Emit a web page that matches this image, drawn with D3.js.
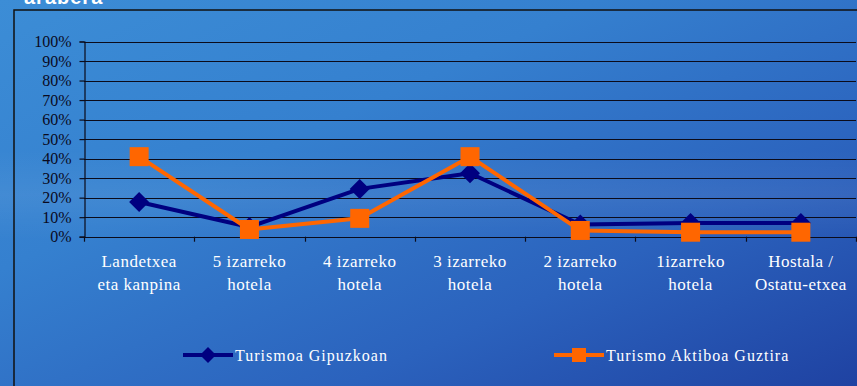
<!DOCTYPE html>
<html>
<head>
<meta charset="utf-8">
<script src="https://cdn.jsdelivr.net/npm/d3@7"></script>
<style>
  html, body { margin: 0; padding: 0; background: #2f74c4; }
  svg { display: block; }
</style>
</head>
<body>
<svg id="chart" width="857" height="386"></svg>
<script>
// Accommodation types (two-line labels)
const categories = [
  ["Landetxea", "eta kanpina"],
  ["5 izarreko", "hotela"],
  ["4 izarreko", "hotela"],
  ["3 izarreko", "hotela"],
  ["2 izarreko", "hotela"],
  ["1izarreko", "hotela"],
  ["Hostala /", "Ostatu-etxea"]
];
const seriesNames = ["Turismoa Gipuzkoan", "Turismo Aktiboa Guztira"];
const gipuzkoa = [0.178, 0.05, 0.245, 0.325, 0.062, 0.07, 0.07];
const guztira  = [0.41, 0.037, 0.094, 0.41, 0.032, 0.023, 0.023];
const yTicks = [0, 0.1, 0.2, 0.3, 0.4, 0.5, 0.6, 0.7, 0.8, 0.9, 1.0];

const svg = d3.select("#chart");
const W = 857, H = 386;

// Background gradient
const defs = svg.append("defs");
const bg = defs.append("linearGradient").attr("id", "bg")
  .attr("x1", "0").attr("y1", "0").attr("x2", "1").attr("y2", "1");
bg.append("stop").attr("offset", "0%").attr("stop-color", "#3c8dd6");
bg.append("stop").attr("offset", "35%").attr("stop-color", "#3580cf");
bg.append("stop").attr("offset", "70%").attr("stop-color", "#2b62bd");
bg.append("stop").attr("offset", "100%").attr("stop-color", "#1f42a2");
svg.append("rect").attr("width", W).attr("height", H).attr("fill", "url(#bg)");

// Soft horizontal haze band behind the lower plot area
const haze = defs.append("linearGradient").attr("id", "haze")
  .attr("x1", "0").attr("y1", "0").attr("x2", "0").attr("y2", "1");
haze.append("stop").attr("offset", "0%").attr("stop-color", "#ffffff").attr("stop-opacity", 0);
haze.append("stop").attr("offset", "50%").attr("stop-color", "#ffffff").attr("stop-opacity", 0.06);
haze.append("stop").attr("offset", "100%").attr("stop-color", "#ffffff").attr("stop-opacity", 0);
svg.append("rect").attr("x", 0).attr("y", 150).attr("width", W).attr("height", 90).attr("fill", "url(#haze)");

// Title (mostly outside the top edge)
svg.append("text").attr("x", 24).attr("y", 4)
  .attr("fill", "#ffffff").attr("font-family", "Liberation Sans, Arial, sans-serif")
  .attr("font-weight", "bold").attr("font-size", 20).attr("letter-spacing", 1)
  .text("arabera");

// Chart frame
svg.append("rect").attr("x", 14).attr("y", 10).attr("width", 900).attr("height", 500)
  .attr("fill", "none").attr("stroke", "#111").attr("stroke-width", 1.5);

// Scales
const x = d3.scaleBand().domain(d3.range(categories.length)).range([84, 856]).padding(0);
const y = d3.scaleLinear().domain([0, 1]).range([236.7, 41.5]);
const cx = i => x(i) + x.bandwidth() / 2;

// Gridlines
svg.append("g").selectAll("line").data(yTicks).join("line")
  .attr("x1", 84).attr("x2", 856)
  .attr("y1", d => Math.round(y(d)) + 0.5).attr("y2", d => Math.round(y(d)) + 0.5)
  .attr("stroke", "#0b0b1a").attr("stroke-width", 1.2);

// Y axis
const yAxis = svg.append("g").attr("transform", "translate(84.5,0)")
  .call(d3.axisLeft(y).tickValues(yTicks).tickFormat(d3.format(".0%")).tickSize(5).tickPadding(8));
yAxis.select(".domain").attr("stroke", "#0b0b1a").attr("stroke-width", 1.2);
yAxis.selectAll(".tick line").attr("stroke", "#0b0b1a").attr("stroke-width", 1.2);
yAxis.selectAll(".tick text")
  .attr("fill", "#0a0a1e").attr("font-family", "Liberation Serif, Times New Roman, serif")
  .attr("font-size", 16);

// X axis baseline tick marks at category boundaries
const edges = d3.range(categories.length).map(i => x(i)).concat([x(categories.length - 1) + x.bandwidth()]);
svg.append("g").selectAll("line").data(edges).join("line")
  .attr("x1", d => Math.round(d) + 0.5).attr("x2", d => Math.round(d) + 0.5)
  .attr("y1", y(0)).attr("y2", y(0) + 5)
  .attr("stroke", "#0b0b1a").attr("stroke-width", 1.2);

// Category labels
const lab = svg.append("g").selectAll("text").data(categories).join("text")
  .attr("x", (d, i) => cx(i)).attr("text-anchor", "middle")
  .attr("fill", "#ffffff").attr("font-family", "Liberation Serif, Times New Roman, serif")
  .attr("font-size", 17).attr("letter-spacing", 0.5);
lab.append("tspan").attr("x", (d, i) => cx(i)).attr("y", 267).text(d => d[0]);
lab.append("tspan").attr("x", (d, i) => cx(i)).attr("y", 290).text(d => d[1]);

// Lines
const line = d3.line().x((d, i) => cx(i)).y(d => y(d));
const navy = "#000080", orange = "#ff6600";

svg.append("path").datum(gipuzkoa).attr("d", line)
  .attr("fill", "none").attr("stroke", navy).attr("stroke-width", 4).attr("stroke-linejoin", "round");
const diamond = s => `M0,${-s}L${s},0L0,${s}L${-s},0Z`;
svg.append("g").selectAll("path").data(gipuzkoa).join("path")
  .attr("transform", (d, i) => `translate(${cx(i)},${y(d)})`)
  .attr("d", diamond(10)).attr("fill", navy);

svg.append("path").datum(guztira).attr("d", line)
  .attr("fill", "none").attr("stroke", orange).attr("stroke-width", 4).attr("stroke-linejoin", "round");
svg.append("g").selectAll("rect").data(guztira).join("rect")
  .attr("x", (d, i) => cx(i) - 9.5).attr("y", d => y(d) - 9.5)
  .attr("width", 19).attr("height", 19).attr("fill", orange);

// Legend
const legend = [
  { name: seriesNames[0], color: navy, x0: 183, marker: "diamond" },
  { name: seriesNames[1], color: orange, x0: 554, marker: "square" }
];
const lg = svg.append("g").selectAll("g").data(legend).join("g")
  .attr("transform", d => `translate(${d.x0},355)`);
lg.append("line").attr("x1", 0).attr("x2", 50).attr("y1", 0).attr("y2", 0)
  .attr("stroke", d => d.color).attr("stroke-width", 4);
lg.append("path")
  .attr("transform", "translate(25,0)")
  .attr("d", d => d.marker === "diamond" ? diamond(8) : "M-7,-7H7V7H-7Z")
  .attr("fill", d => d.color);
lg.append("text").attr("x", 52).attr("y", 5.5)
  .attr("fill", "#ffffff").attr("font-family", "Liberation Serif, Times New Roman, serif")
  .attr("font-size", 16).attr("letter-spacing", 1)
  .text(d => d.name);
</script>
</body>
</html>
